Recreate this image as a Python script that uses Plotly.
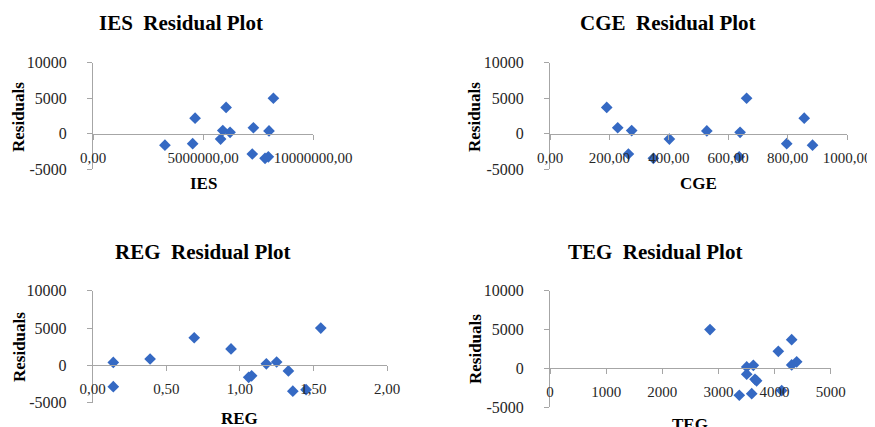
import plotly.graph_objects as go

# the page body has an 8px margin, so the figure is drawn 8px in from the corner
OFF = 8
W, H = 875, 427 - OFF

# Residuals shared by all four plots (same 13 observations)
residuals = [5000, 3700, 2200, 850, 450, 400, 200, -750, -1400, -1600, -2850, -3250, -3450]

ies = [8.2e6, 6.05e6, 4.64e6, 7.29e6, 5.9e6, 8.0e6, 6.23e6, 5.8e6, 4.53e6, 3.27e6, 7.24e6, 7.97e6, 7.82e6]
cge = [662, 191, 856, 228, 275, 528, 640, 402, 797, 884, 264, 637, 348]
reg = [1.55, 0.69, 0.94, 0.39, 1.25, 0.14, 1.18, 1.33, 1.08, 1.06, 0.14, 1.45, 1.36]
teg = [2850, 4305, 4067, 4394, 4305, 3622, 3504, 3504, 3652, 3680, 4127, 3593, 3372]

ies_ticks = [0, 5e6, 1e7]
ies_ticktext = ["0,00", "5000000,00", "10000000,00"]
cge_ticks = [0, 200, 400, 600, 800, 1000]
cge_ticktext = ["0,00", "200,00", "400,00", "600,00", "800,00", "1000,00"]
reg_ticks = [0, 0.5, 1.0, 1.5, 2.0]
reg_ticktext = ["0,00", "0,50", "1,00", "1,50", "2,00"]
teg_ticks = [0, 1000, 2000, 3000, 4000, 5000]
teg_ticktext = ["0", "1000", "2000", "3000", "4000", "5000"]
y_ticks = [-5000, 0, 5000, 10000]

names = ["IES", "CGE", "REG", "TEG"]
xs = [ies, cge, reg, teg]
ticks = [ies_ticks, cge_ticks, reg_ticks, teg_ticks]
ticktexts = [ies_ticktext, cge_ticktext, reg_ticktext, teg_ticktext]

FONT = "Liberation Serif"
AX = "#a6a6a6"
BLUE = "#3569C3"


def px(x):
    return (x - OFF) / W


def py(y):
    return 1 - (y - OFF) / H


# panel pixel boxes (screen pixels): x0, x1, ytop(10000), ybottom(-5000)
boxes = [(93, 313, 62.7, 169.3), (550, 847, 62.7, 169.3),
         (92.7, 387, 290.7, 402.7), (550, 830.7, 290.7, 407.3)]
title_pos = [(180.5, 23), (667.5, 23), (202.5, 252), (655, 252)]
ytitle_pos = [(19, 117), (475, 117), (19, 347), (475, 349)]
xtitle_pos = [(203, 183), (698.5, 183), (240, 418), (690, 424)]

fig = go.Figure()
ann = []
layout = {}
for i in range(4):
    sfx = "" if i == 0 else str(i + 1)
    x0, x1, yt, yb = boxes[i]
    ydom = [py(yb), py(yt)]
    fig.add_trace(go.Scatter(
        x=xs[i], y=residuals, mode="markers",
        marker=dict(symbol="diamond", size=9, color=BLUE),
        xaxis="x" + sfx, yaxis="y" + sfx, showlegend=False))
    layout["xaxis" + sfx] = dict(
        domain=[px(x0), px(x1)], range=[ticks[i][0], ticks[i][-1]],
        anchor="free", position=ydom[0] + (ydom[1] - ydom[0]) / 3, automargin=False,
        showline=True, linecolor=AX, linewidth=1, showgrid=False, zeroline=False,
        ticks="outside", ticklen=5, tickcolor=AX,
        tickvals=ticks[i], ticktext=ticktexts[i], ticklabelstandoff=5,
        tickfont=dict(family=FONT, size=15, color="#262626"))
    layout["yaxis" + sfx] = dict(
        domain=ydom, range=[-5000, 10000], anchor="x" + sfx, automargin=False,
        showline=True, linecolor=AX, linewidth=1, showgrid=False, zeroline=False,
        ticks="outside", ticklen=5, tickcolor=AX,
        tickvals=y_ticks, ticktext=[str(v) for v in y_ticks], ticklabelstandoff=17,
        tickfont=dict(family=FONT, size=16, color="#262626"))
    tx, ty = title_pos[i]
    ann.append(dict(text="<b>%s  Residual Plot</b>" % names[i], x=px(tx), y=py(ty),
                    xref="paper", yref="paper", showarrow=False, xanchor="center", yanchor="middle",
                    font=dict(family=FONT, size=21, color="black")))
    rx, ry = ytitle_pos[i]
    ann.append(dict(text="<b>Residuals</b>", x=px(rx), y=py(ry), textangle=-90,
                    xref="paper", yref="paper", showarrow=False, xanchor="center", yanchor="middle",
                    font=dict(family=FONT, size=17, color="black")))
    ax_, ay_ = xtitle_pos[i]
    ann.append(dict(text="<b>%s</b>" % names[i], x=px(ax_), y=py(ay_),
                    xref="paper", yref="paper", showarrow=False, xanchor="center", yanchor="middle",
                    font=dict(family=FONT, size=17, color="black")))

fig.update_layout(**layout)
fig.update_layout(width=W, height=H, margin=dict(l=0, r=0, t=0, b=0, autoexpand=False),
                  paper_bgcolor="white", plot_bgcolor="white", annotations=ann)
fig.write_html("out.html")
